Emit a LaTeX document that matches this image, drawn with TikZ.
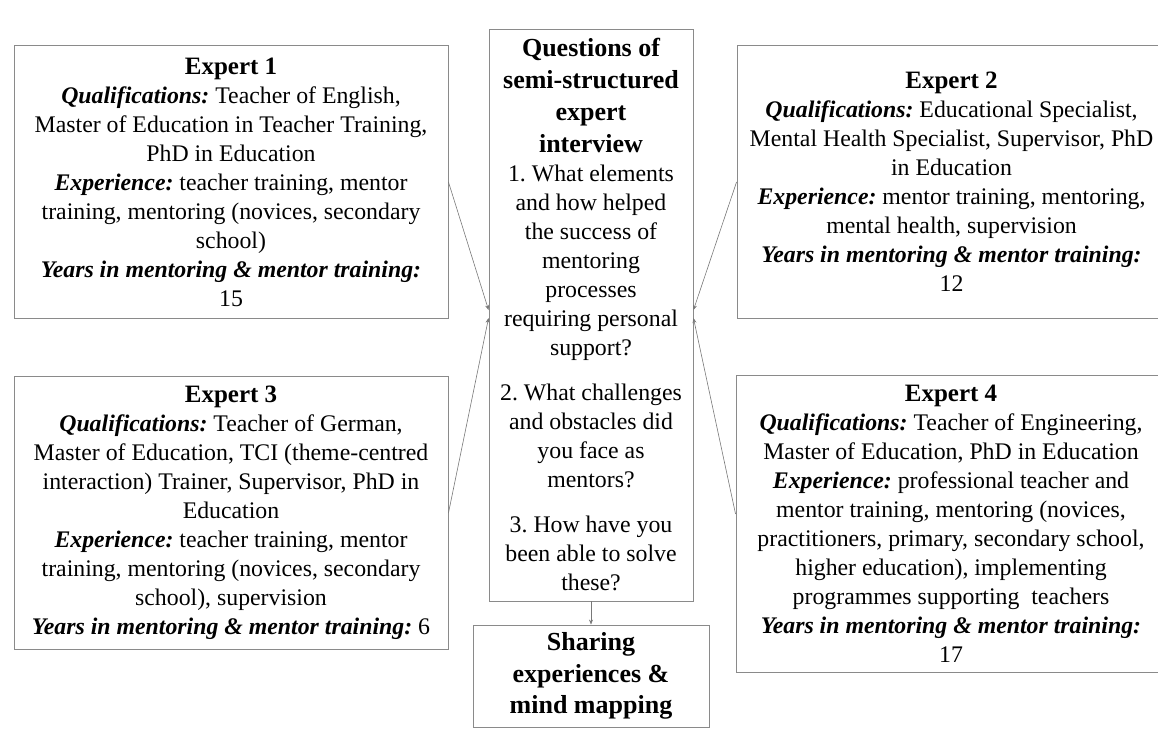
\documentclass[tikz,border=0pt]{standalone}
\usepackage{fontspec}
\setmainfont{Liberation Serif}
\usepackage{tikz}
\usetikzlibrary{arrows.meta,positioning}
\usepackage{xcolor}
\definecolor{boxline}{RGB}{138,138,138}
\definecolor{linkline}{RGB}{120,120,120}
\frenchspacing

% label helpers
\newcommand{\qual}{\textbf{\textit{Qualifications:}}}
\newcommand{\expe}{\textbf{\textit{Experience:}}}
\newcommand{\yrs}{\textbf{\textit{Years in mentoring \& mentor training:}}}
\newcommand{\head}[1]{{\fontsize{25}{29}\selectfont\bfseries #1}}
\newcommand{\qhead}[1]{{\fontsize{26}{31.5}\selectfont\bfseries #1}}

\begin{document}
\begin{tikzpicture}[x=1pt,y=-1pt,
    expert/.style={draw=boxline,line width=0.9pt,align=center,inner sep=0pt,
      minimum width=434pt,minimum height=273pt,
      font=\fontsize{23.8}{29}\selectfont},
    hub/.style={draw=boxline,line width=0.9pt,align=center,inner sep=0pt,
      font=\fontsize{23.8}{29}\selectfont},
    link/.style={linkline,line width=0.6pt,-{Stealth[length=5pt,width=4pt]}}]
  \useasboundingbox (0,0) rectangle (1158,742);

  % experts, left column
  \node[expert] (e1) at (231,182) {\head{Expert 1}\\
    \qual{} Teacher of English,\\
    Master of Education in Teacher Training,\\
    PhD in Education\\
    \expe{} teacher training, mentor\\
    training, mentoring (novices, secondary\\
    school)\\
    \yrs\\
    15};
  \node[expert] (e3) at (231,513) {\head{Expert 3}\\
    \qual{} Teacher of German,\\
    Master of Education, TCI (theme-centred\\
    interaction) Trainer, Supervisor, PhD in\\
    Education\\
    \expe{} teacher training, mentor\\
    training, mentoring (novices, secondary\\
    school), supervision\\
    \yrs{} 6};

  % experts, right column (run past the edge)
  \node[expert,minimum width=429pt] (e2) at (951.5,182) {\head{Expert 2}\\
    \qual{} Educational Specialist,\\
    Mental Health Specialist, Supervisor, PhD\\
    in Education\\
    \expe{} mentor training, mentoring,\\
    mental health, supervision\\
    \yrs\\
    12};
  \node[expert,minimum width=430pt,minimum height=297pt] (e4) at (951,524) {\head{Expert 4}\\
    \qual{} Teacher of Engineering,\\
    Master of Education, PhD in Education\\
    \expe{} professional teacher and\\
    mentor training, mentoring (novices,\\
    practitioners, primary, secondary school,\\
    higher education), implementing\\
    programmes supporting\ \ teachers\\
    \yrs\\
    17};

  % interview questions and outcome
  \node[hub,minimum width=204pt,minimum height=572pt] (q) at (591,315) {%
    \qhead{Questions of}\\[3pt]
    \qhead{semi-structured}\\[3pt]
    \qhead{expert}\\[3pt]
    \qhead{interview}\\
    1. What elements\\
    and how helped\\
    the success of\\
    mentoring\\
    processes\\
    requiring personal\\
    support?\\[16pt]
    2. What challenges\\
    and obstacles did\\
    you face as\\
    mentors?\\[16pt]
    3. How have you\\
    been able to solve\\
    these?};
  \node[hub,minimum width=236pt,minimum height=102pt,
    font=\fontsize{26}{31.5}\selectfont\bfseries] (s) at (591,676) {Sharing\\
    experiences \&\\
    mind mapping};

  % connectors
  \draw[link] (e1.east) -- ([yshift=5pt]q.west);
  \draw[link] (e3.east) -- ([yshift=-3pt]q.west);
  \draw[link] (e2.west) -- ([yshift=5pt]q.east);
  \draw[link] ([yshift=10pt]e4.west) -- ([yshift=-3pt]q.east);
  \draw[link] (q.south) -- (s.north);
\end{tikzpicture}
\end{document}
